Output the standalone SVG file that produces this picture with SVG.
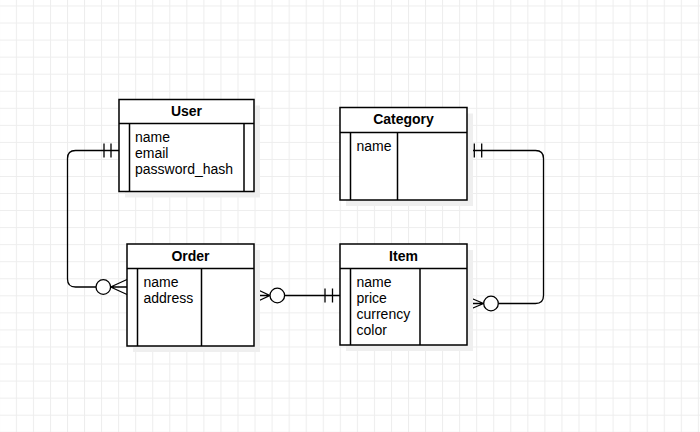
<svg xmlns="http://www.w3.org/2000/svg" width="700" height="432" viewBox="0 0 700 432">
<defs>
<pattern id="grid" patternUnits="userSpaceOnUse" x="-1.2" y="5.5" width="17.05" height="17.05">
<path d="M17.05 0.5 H0.5 V17.05" fill="none" stroke="#ededed" stroke-width="1"/>
</pattern>
</defs>
<style>
.box{fill:#fff;stroke:#000;stroke-width:1.5}
.sh{fill:#efefef}
.ln{fill:none;stroke:#000;stroke-width:1.5}
.cn{fill:none;stroke:#000;stroke-width:1.3}
.ci{fill:#fff;stroke:#000;stroke-width:1.3}
.t{font-family:"Liberation Sans",Arial,Helvetica,sans-serif;font-size:14px;fill:#000}
.h{font-family:"Liberation Sans",Arial,Helvetica,sans-serif;font-size:14px;font-weight:bold;fill:#000;text-anchor:middle}
</style>
<rect width="700" height="432" fill="#fff"/>
<rect width="700" height="432" fill="url(#grid)"/>

<g id="connectors">
<!-- User - Order -->
<path class="cn" d="M119 150.5 H75.5 Q67.5 150.5 67.5 158.5 V279 Q67.5 287 75.5 287 H96"/>
<path class="cn" d="M104 143.5 V157.5 M111 143.5 V157.5"/>
<circle class="ci" cx="103.3" cy="287" r="7.3"/>
<path class="cn" d="M110.6 287 H127 M110.6 287 L127 279.5 M110.6 287 L127 294.5"/>
<!-- Order - Item -->
<path class="cn" d="M254 295.5 H270 M254 288 L270 295.5 M254 303 L270 295.5"/>
<circle class="ci" cx="277.3" cy="295.5" r="7.3"/>
<path class="cn" d="M284.6 295.5 H340"/>
<path class="cn" d="M325 288.5 V302.5 M332.5 288.5 V302.5"/>
<!-- Category - Item -->
<path class="cn" d="M467 150.5 H535.5 Q543.5 150.5 543.5 158.5 V295.5 Q543.5 303.5 535.5 303.5 H498.3"/>
<path class="cn" d="M474.3 143.5 V157.5 M481.7 143.5 V157.5"/>
<circle class="ci" cx="491" cy="303.5" r="7.3"/>
<path class="cn" d="M483.7 303.5 H467 M483.7 303.5 L467 296.5 M483.7 303.5 L467 310.5"/>
</g>

<g id="user">
<rect class="sh" x="125" y="105.5" width="135" height="92"/>
<rect class="box" x="119" y="99.5" width="135" height="92"/>
<path class="ln" d="M119 123.5 H254 M129.5 123.5 V191.5 M244 123.5 V191.5"/>
<text class="h" x="186.5" y="116">User</text>
<text class="t" x="135" y="142">name</text>
<text class="t" x="135" y="158">email</text>
<text class="t" x="135" y="174">password_hash</text>
</g>

<g id="category">
<rect class="sh" x="346" y="113.5" width="127" height="92.5"/>
<rect class="box" x="340" y="107.5" width="127" height="92.5"/>
<path class="ln" d="M340 132.5 H467 M350.5 132.5 V200 M397.5 132.5 V200"/>
<text class="h" x="403.5" y="124">Category</text>
<text class="t" x="356.5" y="150.5">name</text>
</g>

<g id="order">
<rect class="sh" x="133" y="250" width="127" height="102"/>
<rect class="box" x="127" y="244" width="127" height="102"/>
<path class="ln" d="M127 268.5 H254 M137.5 268.5 V346 M201.5 268.5 V346"/>
<text class="h" x="190.5" y="260.5">Order</text>
<text class="t" x="143.5" y="287">name</text>
<text class="t" x="143.5" y="303">address</text>
</g>

<g id="item">
<rect class="sh" x="346" y="250" width="127" height="101"/>
<rect class="box" x="340" y="244" width="127" height="101"/>
<path class="ln" d="M340 268.5 H467 M350.5 268.5 V345 M420 268.5 V345"/>
<text class="h" x="403.5" y="260.5">Item</text>
<text class="t" x="356.5" y="287">name</text>
<text class="t" x="356.5" y="303">price</text>
<text class="t" x="356.5" y="319">currency</text>
<text class="t" x="356.5" y="335">color</text>
</g>
</svg>
